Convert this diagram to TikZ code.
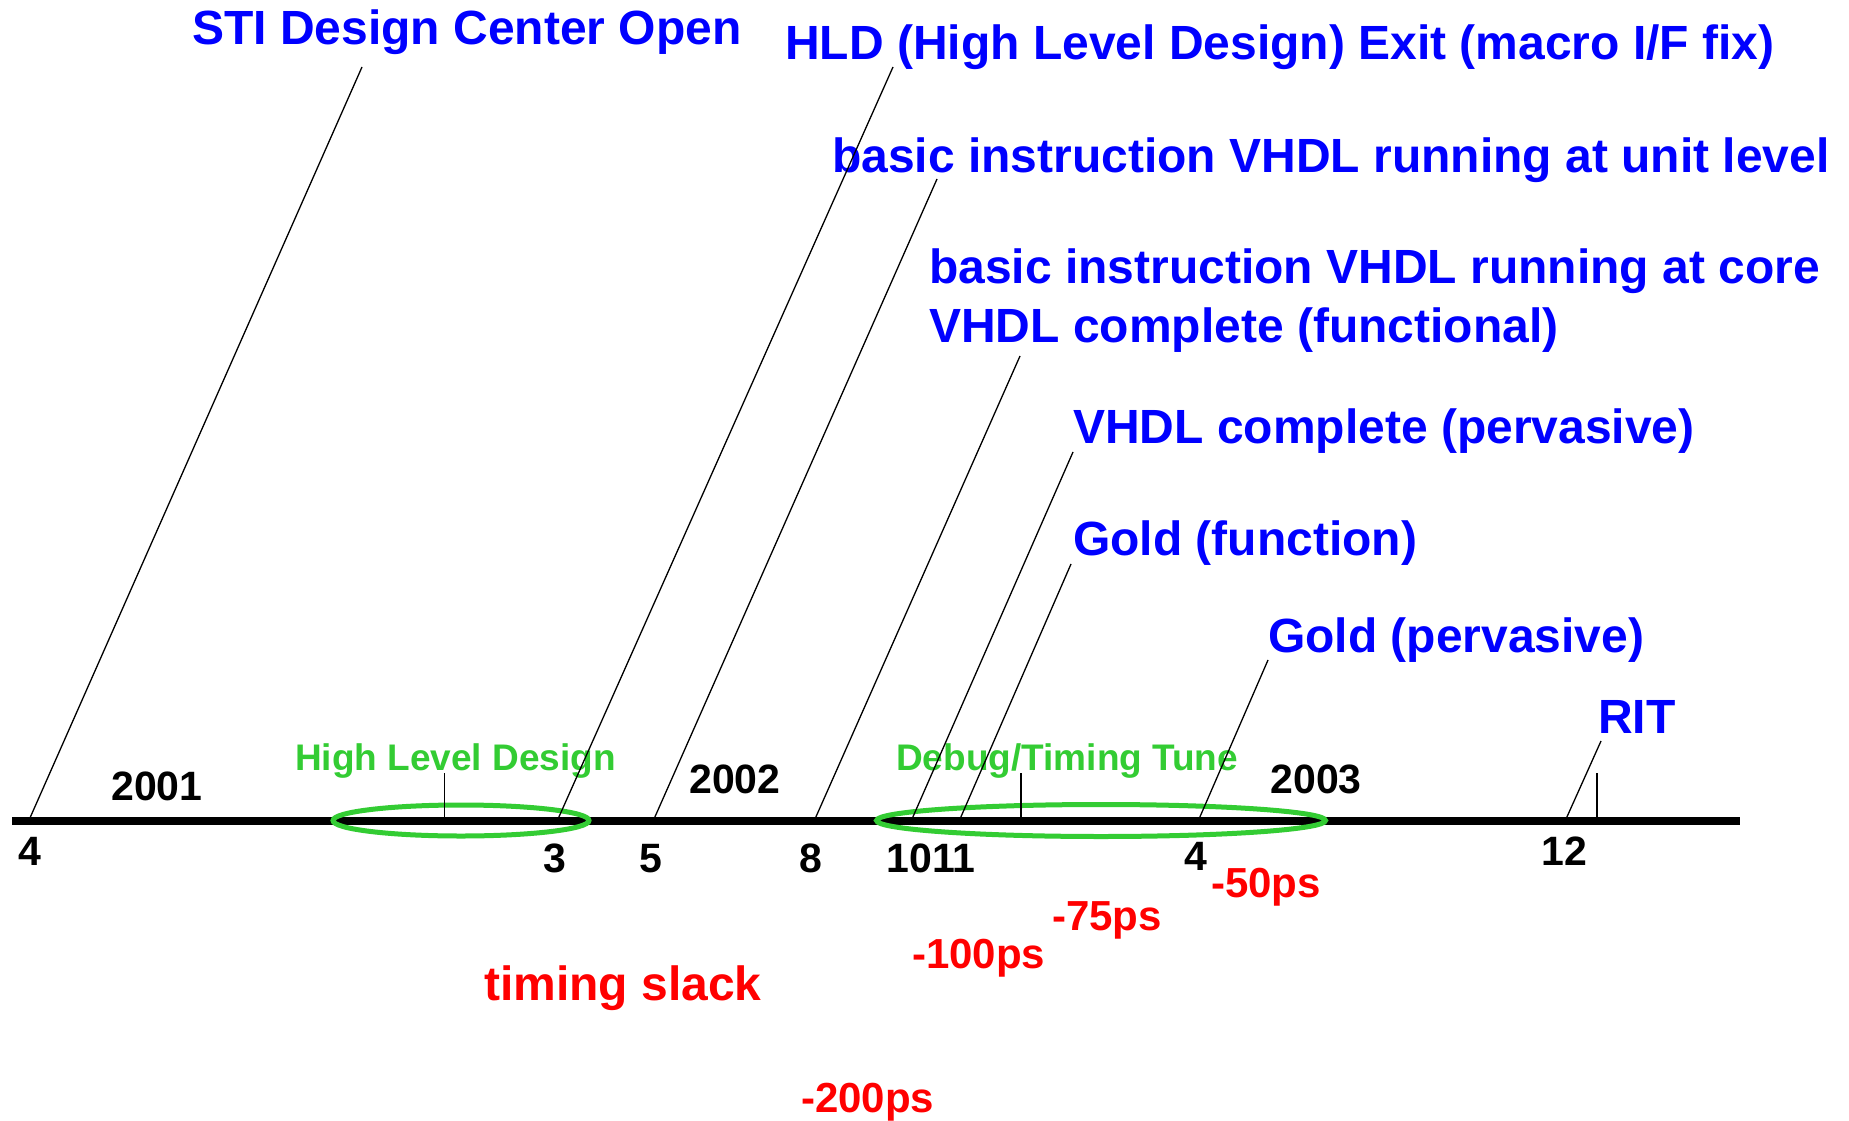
\documentclass[tikz,border=0pt]{standalone}
\usepackage{fontspec}
\setmainfont{Liberation Sans}
\definecolor{evblue}{RGB}{0,0,255}
\definecolor{phgreen}{RGB}{51,204,51}
\definecolor{slred}{RGB}{255,0,0}
\tikzset{
  event/.style={anchor=base west, inner sep=0pt, text=evblue, align=left,
    font=\fontsize{48}{59}\selectfont\bfseries},
  month/.style={anchor=base, inner sep=0pt, font=\fontsize{41}{49}\selectfont\bfseries},
  phase/.style={anchor=base west, inner sep=0pt, text=phgreen,
    font=\fontsize{37}{44}\selectfont\bfseries},
  slack/.style={anchor=base west, inner sep=0pt, text=slred,
    font=\fontsize{42}{50}\selectfont\bfseries},
  leader/.style={line width=1.3pt},
  tick/.style={line width=1.5pt},
  axis/.style={line width=8pt},
  span/.style={draw=phgreen, line width=5pt},
}
\begin{document}
\begin{tikzpicture}[x=1pt,y=-1pt]
\fill[white] (0,0) rectangle (1849,1121);
\useasboundingbox (0,0) rectangle (1849,1121);

% time axis
\coordinate (ax0) at (12,820.5);
\coordinate (ax1) at (1740,820.5);
\draw[axis] (ax0) -- (ax1);

% phase spans
\draw[span] (461,820.5) ellipse [x radius=128, y radius=15.5];
\draw[span] (1101,820.5) ellipse [x radius=224.5, y radius=16];

% phase labels and their ticks
\node[phase] (hld-phase) at (295,770) {High Level Design};
\node[phase] (dbg-phase) at (896,770) {Debug/Timing Tune};
\coordinate (hld-t0) at (444.6,773);  \coordinate (hld-t1) at (444.6,820);
\coordinate (dbg-t0) at (1021,773);   \coordinate (dbg-t1) at (1021,820);
\coordinate (rit-t0) at (1597,773);   \coordinate (rit-t1) at (1597,820);
\draw[tick] (hld-t0) -- (hld-t1);
\draw[tick] (dbg-t0) -- (dbg-t1);
\draw[tick] (rit-t0) -- (rit-t1);

% milestones (a two-line node sits on the baseline of its last line)
\node[event] (sti)  at (192,45)   {STI Design Center Open};
\node[event] (hld)  at (785,60)   {HLD (High Level Design) Exit (macro I/F fix)};
\node[event] (unit) at (832,172)  {basic instruction VHDL running at unit level};
\node[event] (core) at (929,342)  {basic instruction VHDL running at core\\VHDL complete (functional)};
\node[event] (perv) at (1073,443) {VHDL complete (pervasive)};
\node[event] (gfun) at (1073,555) {Gold (function)};
\node[event] (gper) at (1268,652) {Gold (pervasive)};
\node[event] (rit)  at (1598,733) {RIT};

% leader lines from milestones down to the axis
\coordinate (sti-a)  at (362,67);   \coordinate (sti-b)  at (29.5,819);
\coordinate (hld-a)  at (893,67);   \coordinate (hld-b)  at (558,819);
\coordinate (unit-a) at (937,179);  \coordinate (unit-b) at (654,819);
\coordinate (core-a) at (1020,356); \coordinate (core-b) at (815,819);
\coordinate (perv-a) at (1073,452); \coordinate (perv-b) at (912,819);
\coordinate (gfun-a) at (1071,564); \coordinate (gfun-b) at (960,819);
\coordinate (gper-a) at (1268,660); \coordinate (gper-b) at (1199,819);
\coordinate (rit-a)  at (1601,741); \coordinate (rit-b)  at (1566,819);
\foreach \m in {sti,hld,unit,core,perv,gfun,gper,rit}
  \draw[leader] (\m-a) -- (\m-b);

% years
\node[month] (y2001) at (157,800) {2001};
\node[month] (y2002) at (735,793) {2002};
\node[month] (y2003) at (1316,793) {2003};

% months
\node[month] (m-a) at (30,865)   {4};
\node[month] (m-b) at (555,872)  {3};
\node[month] (m-c) at (651,872)  {5};
\node[month] (m-d) at (811,872)  {8};
\node[month] (m-e) at (931,872)  {1011};
\node[month] (m-f) at (1196,870) {4};
\node[month] (m-g) at (1564,865) {12};

% timing slack
\node[slack] (s50)  at (1211,897) {-50ps};
\node[slack] (s75)  at (1052,930) {-75ps};
\node[slack] (s100) at (912,968)  {-100ps};
\node[slack, font=\fontsize{48}{58}\selectfont\bfseries] (slack) at (484,1000) {timing slack};
\node[slack] (s200) at (801,1112) {-200ps};
\end{tikzpicture}
\end{document}
